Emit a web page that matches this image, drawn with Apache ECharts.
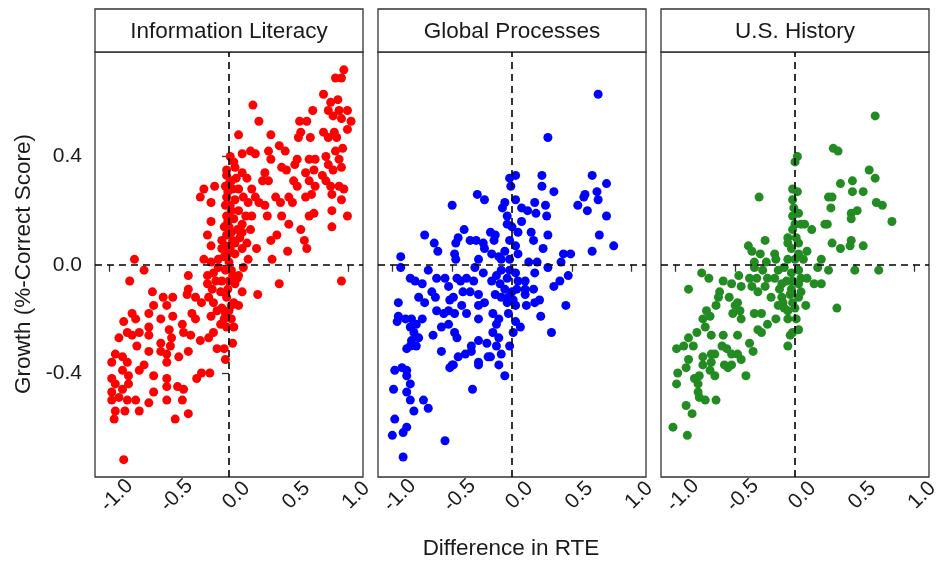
<!DOCTYPE html>
<html><head><meta charset="utf-8">
<script src="https://cdn.jsdelivr.net/npm/echarts@6/dist/echarts.min.js"></script>
<style>html,body{margin:0;padding:0;background:#fff}#c{width:937px;height:563px}</style>
</head><body><div id="c"></div><script>
const panelTitles = ['Information Literacy', 'Global Processes', 'U.S. History'];
const xTicks = [-1, -0.5, 0, 0.5, 1];
const yTicks = [-0.4, 0, 0.4];
const xTitle = 'Difference in RTE';
const yTitle = 'Growth (%-Correct Score)';
const pointColors = ['#FF0000', '#0000FF', '#228B22'];

const infoLiteracy = [
[0.96,0.72],[0.89,0.69],[0.94,0.69],[0.79,0.63],[0.91,0.61],[0.20,0.59],[0.70,0.57],[0.85,0.60],[0.83,0.57],[0.92,0.57],[0.99,0.57],[0.59,0.53],[0.65,0.53],[0.25,0.53],[0.87,0.55],[0.94,0.54],[1.02,0.53],[0.99,0.50],[0.79,0.49],[0.83,0.47],[0.90,0.47],[0.88,0.49],[0.08,0.48],[0.35,0.48],[0.60,0.49],[0.68,0.47],[0.58,0.47],[0.42,0.44],[0.47,0.42],[0.95,0.43],[0.33,0.42],[0.18,0.42],[0.11,0.41],[0.22,0.41],[0.01,0.40],[0.57,0.39],[0.67,0.39],[0.72,0.39],[0.81,0.40],[0.89,0.42],[0.83,0.37],[0.92,0.39],[0.35,0.39],[0.44,0.36],[0.48,0.35],[0.55,0.37],[0.64,0.34],[0.71,0.35],[0.78,0.33],[0.87,0.35],[0.94,0.36],[-0.02,0.35],[0.05,0.36],[0.11,0.34],[0.15,0.32],[0.30,0.34],[0.28,0.31],[0.33,0.31],[0.54,0.31],[0.57,0.29],[0.67,0.31],[0.72,0.29],[0.81,0.31],[0.85,0.29],[0.92,0.29],[0.96,0.28],[0.94,0.24],[0.86,0.26],[-0.12,0.29],[-0.21,0.28],[-0.24,0.25],[-0.15,0.23],[-0.15,0.16],[-0.18,0.11],[-0.15,0.07],[0.19,0.28],[0.22,0.25],[0.16,0.23],[0.25,0.23],[0.30,0.22],[0.39,0.25],[0.43,0.23],[0.50,0.25],[0.53,0.23],[0.64,0.25],[0.69,0.26],[0.67,0.18],[0.71,0.19],[0.86,0.20],[0.99,0.18],[0.86,0.14],[0.32,0.18],[0.44,0.18],[0.50,0.15],[0.60,0.13],[0.40,0.11],[0.35,0.09],[0.49,0.05],[0.63,0.09],[0.65,0.06],[0.23,0.06],[0.36,0.02],[0.16,0.02],[-0.79,0.02],[-0.21,0.02],[-0.15,0.01],
[-0.02,0.33],[0.00,0.30],[0.03,0.28],[-0.02,0.25],[0.05,0.24],[0.01,0.22],[0.08,0.20],[-0.02,0.18],[0.04,0.17],[0.11,0.15],[0.00,0.14],[0.07,0.13],[-0.02,0.11],[0.03,0.09],[0.09,0.10],[-0.03,0.07],[0.01,0.06],[0.05,0.04],[-0.04,0.03],[0.00,0.01],[0.11,0.06],[0.14,0.18],[0.11,0.12],[-0.06,0.09],[-0.04,0.14],[-0.03,0.22],[0.08,0.28],[0.12,0.25],[0.19,0.18],[0.18,0.13],[0.15,0.08],[0.05,0.08],[-0.06,0.06],[-0.09,0.02],
[0.02,0.31],[-0.01,0.27],[0.02,0.20],[-0.01,0.16],[0.02,0.12],[-0.01,0.04],[0.03,-0.04],[-0.01,-0.09],[0.02,-0.15],[-0.03,-0.18],[0.06,0.32],[0.04,0.38],[-0.03,0.29],
[-0.71,-0.02],[-0.83,-0.06],[0.94,-0.06],[0.42,-0.07],[0.24,-0.11],[-0.34,-0.04],[-0.34,-0.09],[-0.35,-0.11],[-0.28,-0.12],[-0.18,-0.04],[-0.18,-0.07],[-0.17,-0.12],[-0.23,-0.14],[-0.15,-0.19],[-0.13,-0.14],[-0.64,-0.10],[-0.63,-0.15],[-0.55,-0.12],[-0.47,-0.12],[-0.52,-0.15],[-0.47,-0.19],[-0.67,-0.18],[-0.57,-0.20],[-0.39,-0.22],[-0.31,-0.18],[-0.28,-0.20],[-0.38,-0.25],[-0.32,-0.26],[-0.81,-0.18],[-0.78,-0.20],[-0.88,-0.21],[-0.67,-0.23],[-0.67,-0.26],[-0.75,-0.25],[-0.85,-0.25],[-0.81,-0.26],[-0.92,-0.27],[-0.77,-0.30],[-0.67,-0.32],[-0.57,-0.29],[-0.57,-0.32],[-0.50,-0.24],[-0.48,-0.27],[-0.49,-0.30],[-0.52,-0.33],[-0.52,-0.36],[-0.42,-0.34],[-0.34,-0.32],[-0.24,-0.28],[-0.17,-0.27],[-0.13,-0.25],[-0.10,-0.31],[-0.04,-0.31],[-0.03,-0.35],[0.03,-0.29],[0.04,-0.23],[-0.95,-0.33],[-0.98,-0.36],[-0.89,-0.34],[-0.85,-0.36],[-0.71,-0.37],[-0.75,-0.39],[-0.84,-0.41],[-0.89,-0.39],[-0.98,-0.42],[-0.95,-0.44],[-0.89,-0.46],[-0.84,-0.44],[-0.98,-0.47],[-0.92,-0.49],[-0.85,-0.50],[-0.78,-0.50],[-0.98,-0.50],[-0.95,-0.54],[-0.96,-0.57],[-0.87,-0.54],[-0.75,-0.54],[-0.67,-0.51],[-0.63,-0.47],[-0.63,-0.41],[-0.52,-0.42],[-0.52,-0.45],[-0.43,-0.45],[-0.38,-0.46],[-0.52,-0.50],[-0.39,-0.50],[-0.34,-0.55],[-0.45,-0.57],[-0.27,-0.42],[-0.23,-0.40],[-0.16,-0.40],[-0.88,-0.72],
[-0.09,-0.01],[-0.03,-0.02],[0.02,-0.02],[0.08,-0.04],[0.12,-0.01],[-0.06,-0.06],[0.00,-0.06],[0.05,-0.07],[0.11,-0.10],[-0.07,-0.10],[-0.02,-0.12],[0.04,-0.14],[-0.06,-0.16],[0.00,-0.17],[0.08,-0.15],[-0.04,-0.20],[0.02,-0.20],[-0.02,-0.23],[-0.07,-0.22],[-0.11,-0.06],[-0.13,-0.03],[0.07,-0.05],[-0.10,-0.17],[-0.14,-0.09]
];

const globalProcesses = [
[0.72,0.63],[0.30,0.47],[0.03,0.33],[-0.02,0.32],[0.25,0.33],[0.67,0.33],[0.79,0.30],[-0.01,0.29],[0.25,0.29],[0.35,0.27],[0.61,0.26],[0.60,0.25],[0.71,0.27],[0.72,0.24],[0.79,0.18],[0.55,0.22],[0.63,0.20],[-0.29,0.26],[-0.23,0.24],[-0.50,0.22],[-0.73,0.11],[-0.65,0.08],[-0.62,0.05],[-0.93,0.03],[-0.45,0.10],[-0.47,0.08],[-0.40,0.13],
[-0.48,0.04],[-0.47,0.02],[-0.35,0.09],[-0.30,0.09],[-0.24,0.08],[-0.23,0.06],[-0.28,0.02],[-0.17,0.04],[-0.18,0.12],[-0.14,0.11],[-0.15,0.09],[-0.08,0.21],[-0.06,0.23],[0.03,0.24],[-0.04,0.18],[-0.04,0.15],[0.00,0.14],[0.05,0.12],[-0.02,0.09],[0.03,0.07],[-0.06,0.05],[-0.09,0.02],[-0.02,0.02],[0.05,0.04],[-0.11,0.03],[0.08,0.21],[0.08,0.16],[0.13,0.20],[0.19,0.23],[0.20,0.19],[0.28,0.22],[0.29,0.18],[0.16,0.12],[0.18,0.09],[0.30,0.11],[0.26,0.06],[0.43,0.04],[0.49,0.04],[0.41,0.01],[0.67,0.05],[0.73,0.11],[0.85,0.07],[0.14,0.01],[0.21,0.01],
[-0.93,-0.01],[-0.70,-0.02],[-0.63,-0.05],[-0.56,-0.05],[-0.46,-0.05],[-0.53,-0.08],[-0.43,-0.06],[-0.38,-0.05],[-0.32,-0.06],[-0.31,-0.01],[-0.24,-0.03],[-0.17,-0.06],[-0.13,-0.04],[-0.09,-0.02],[-0.04,-0.05],[-0.02,-0.02],[0.03,-0.03],[0.05,-0.06],[0.11,-0.06],[0.19,-0.03],[0.30,-0.01],[0.40,-0.06],[0.47,-0.04],[0.35,-0.08],[0.45,-0.15],[0.33,-0.25],[0.24,-0.19],[0.19,-0.14],[0.23,-0.13],[0.12,-0.15],[0.11,-0.11],[0.18,-0.09],[0.11,-0.09],
[-0.85,-0.05],[-0.81,-0.06],[-0.75,-0.07],[-0.67,-0.10],[-0.64,-0.12],[-0.78,-0.12],[-0.73,-0.14],[-0.63,-0.17],[-0.52,-0.13],[-0.49,-0.12],[-0.41,-0.10],[-0.35,-0.10],[-0.28,-0.11],[-0.23,-0.14],[-0.28,-0.15],[-0.42,-0.15],[-0.53,-0.17],[-0.48,-0.18],[-0.57,-0.18],[-0.38,-0.18],[-0.28,-0.20],[-0.16,-0.18],[-0.11,-0.20],[-0.13,-0.22],[-0.04,-0.14],[0.03,-0.15],[-0.03,-0.18],[0.03,-0.21],[0.07,-0.23],[0.01,-0.25],[-0.02,-0.30],[-0.16,-0.25],[-0.11,-0.27],[-0.21,-0.29],[-0.13,-0.30],[-0.09,-0.33],[-0.18,-0.34],[-0.28,-0.36],[-0.28,-0.28],[-0.34,-0.30],[-0.34,-0.32],[-0.39,-0.33],[-0.45,-0.34],[-0.49,-0.37],[-0.52,-0.38],[-0.46,-0.27],[-0.48,-0.25],[-0.53,-0.22],[-0.59,-0.23],[-0.66,-0.26],[-0.59,-0.32],
[-0.95,-0.14],[-0.95,-0.19],[-0.96,-0.21],[-0.89,-0.20],[-0.84,-0.20],[-0.85,-0.23],[-0.80,-0.22],[-0.75,-0.20],[-0.82,-0.25],[-0.84,-0.28],[-0.78,-0.27],[-0.88,-0.31],[-0.85,-0.30],[-0.80,-0.30],[-0.98,-0.39],[-0.92,-0.38],[-0.88,-0.39],[-0.88,-0.41],[-0.85,-0.44],[-0.99,-0.46],[-0.88,-0.47],[-0.85,-0.50],[-0.82,-0.54],[-0.74,-0.50],[-0.70,-0.53],[-0.98,-0.57],[-0.88,-0.60],[-0.91,-0.62],[-1.00,-0.63],[-0.91,-0.71],[-0.56,-0.65],[-0.33,-0.46],[-0.28,-0.37],[-0.20,-0.34],[-0.11,-0.37],[-0.06,-0.41],[-0.50,-0.37],
[-0.10,-0.07],[-0.06,-0.09],[0.00,-0.10],[-0.03,-0.12],[-0.09,-0.12],[0.01,-0.13],[-0.14,-0.11],[0.04,-0.09]
];

const usHistory = [
[0.67,0.55],[0.32,0.43],[0.36,0.42],[0.02,0.40],[0.00,0.38],[0.62,0.35],[0.67,0.32],[0.38,0.30],[0.48,0.31],[0.48,0.27],[0.57,0.27],[-0.02,0.28],[0.02,0.27],[-0.30,0.25],[0.28,0.25],[0.31,0.25],[0.30,0.21],[0.68,0.23],[0.73,0.22],[0.81,0.16],[0.47,0.19],[0.52,0.20],[0.47,0.17],[0.25,0.15],[0.27,0.15],
[-0.02,0.24],[-0.01,0.21],[-0.02,0.18],[0.03,0.19],[0.00,0.15],[0.05,0.15],[-0.02,0.13],[0.08,0.15],[0.14,0.13],[-0.06,0.10],[0.01,0.10],[0.03,0.08],[-0.06,0.08],[-0.03,0.06],[0.03,0.04],[0.10,0.05],[0.07,0.02],[0.00,0.02],[-0.06,0.02],
[-0.25,0.09],[-0.39,0.07],[-0.36,0.05],[-0.29,0.04],[-0.17,0.04],[-0.24,0.01],[-0.16,0.02],[-0.34,0.01],[0.22,0.02],[0.31,0.08],[0.38,0.06],[0.46,0.07],[0.57,0.07],[0.47,0.09],
[0.50,-0.02],[0.70,-0.02],[0.35,-0.16],[0.19,-0.01],[0.28,-0.02],[0.10,-0.05],[0.16,-0.07],[0.22,-0.07],[0.09,-0.15],
[-0.78,-0.03],[-0.72,-0.05],[-0.89,-0.09],[-0.60,-0.06],[-0.47,-0.04],[-0.53,-0.07],[-0.45,-0.08],[-0.38,-0.05],[-0.32,-0.05],[-0.36,-0.08],[-0.31,-0.10],[-0.27,-0.02],[-0.34,-0.01],[-0.23,-0.05],[-0.25,-0.08],[-0.17,-0.05],[-0.11,-0.07],[-0.20,-0.12],[-0.11,-0.12],[-0.04,-0.11],[0.03,-0.12],[0.00,-0.16],[-0.09,-0.16],[-0.16,-0.20],[-0.06,-0.20],[0.01,-0.20],[0.03,-0.24],[-0.04,-0.26],[-0.02,-0.25],[-0.06,-0.30],[-0.28,-0.18],[-0.34,-0.18],[-0.23,-0.22],[-0.31,-0.24],[-0.28,-0.25],[-0.38,-0.29],[-0.35,-0.32],[-0.45,-0.20],[-0.46,-0.17],[-0.50,-0.15],[-0.52,-0.18],[-0.55,-0.12],[-0.48,-0.14],[-0.63,-0.10],[-0.64,-0.12],[-0.66,-0.15],[-0.74,-0.17],[-0.77,-0.20],[-0.71,-0.19],[-0.75,-0.23],[-0.70,-0.26],[-0.82,-0.25],[-0.89,-0.27],[-0.93,-0.30],[-0.99,-0.31],[-0.85,-0.30],[-0.60,-0.26],[-0.61,-0.30],[-0.57,-0.31],[-0.67,-0.33],[-0.70,-0.33],[-0.53,-0.33],[-0.48,-0.33],[-0.45,-0.35],[-0.48,-0.26],[-0.53,-0.37],[-0.56,-0.38],[-0.59,-0.37],[-0.70,-0.36],[-0.77,-0.34],[-0.77,-0.37],[-0.71,-0.39],[-0.67,-0.41],[-0.80,-0.41],[-0.84,-0.42],[-0.81,-0.44],[-0.89,-0.35],[-0.91,-0.38],[-0.98,-0.40],[-0.99,-0.44],[-0.81,-0.47],[-0.80,-0.49],[-0.75,-0.50],[-0.66,-0.50],[-0.41,-0.41],[-0.91,-0.52],[-0.86,-0.55],[-1.02,-0.60],[-0.90,-0.63],
[-0.14,-0.02],[-0.09,-0.01],[-0.03,-0.03],[0.03,-0.02],[0.05,-0.05],[-0.02,-0.06],[-0.07,-0.06],[-0.13,-0.09],[-0.03,-0.09],[0.03,-0.07],[-0.10,-0.14],[-0.02,-0.14],[0.05,-0.10],[-0.14,-0.15],[-0.06,-0.17]
];

const panelData = [infoLiteracy, globalProcesses, usHistory];
const FONT = '"Liberation Sans", Arial, sans-serif';
const lefts = [95, 378, 661];
const W = 268, TOP = 52, H = 425, STRIP_TOP = 9;
const INK = '#1a1a1a', FRAME = '#333333';
const TICK_FS = 21, TITLE_FS = 22.5;

const grid = lefts.map(l => ({left: l, top: TOP, width: W, height: H, show: true, borderColor: FRAME, borderWidth: 1.3, backgroundColor: '#fff', outerBoundsMode: 'none', containLabel: false}));
const xAxis = lefts.map((l, i) => ({
  gridIndex: i, type: 'value', min: -1.12, max: 1.12,
  axisLine: {show: false}, splitLine: {show: false},
  axisTick: {show: true, length: 7, lineStyle: {color: FRAME, width: 1.3}, customValues: xTicks},
  axisLabel: {customValues: xTicks, formatter: v => v.toFixed(1), rotate: 45, align: 'center', verticalAlign: 'top', margin: 11, fontSize: TICK_FS, color: INK, fontFamily: FONT}
}));
const yAxis = lefts.map((l, i) => ({
  gridIndex: i, type: 'value', min: -0.784, max: 0.786,
  axisLine: {show: false}, splitLine: {show: false},
  axisTick: {show: i === 0, length: 7, lineStyle: {color: FRAME, width: 1.3}, customValues: yTicks},
  axisLabel: {show: i === 0, customValues: yTicks, formatter: v => v.toFixed(1), margin: 13, fontSize: TICK_FS, color: INK, fontFamily: FONT}
}));
const series = panelData.map((d, i) => ({
  type: 'scatter', xAxisIndex: i, yAxisIndex: i, data: d, symbolSize: 9,
  itemStyle: {color: pointColors[i], opacity: 1},
  markLine: {silent: true, symbol: ['none', 'none'], label: {show: false},
    lineStyle: {type: [7, 5], color: '#000', width: 1.6},
    emphasis: {disabled: true},
    data: [{xAxis: 0}, {yAxis: 0}]}
}));
const graphic = [];
lefts.forEach((l, i) => {
  graphic.push({type: 'rect', shape: {x: l, y: STRIP_TOP, width: W, height: TOP - STRIP_TOP}, style: {fill: '#fff', stroke: FRAME, lineWidth: 1.3}});
  graphic.push({type: 'text', x: l + W / 2, y: (STRIP_TOP + TOP) / 2 + 1, style: {text: panelTitles[i], fontSize: TITLE_FS, fontFamily: FONT, fill: INK, align: 'center', verticalAlign: 'middle'}});
});
graphic.push({type: 'text', x: 24, y: 264, rotation: Math.PI / 2, style: {text: yTitle, fontSize: TITLE_FS, fontFamily: FONT, fill: INK, align: 'center', verticalAlign: 'middle'}});
graphic.push({type: 'text', x: 511, y: 549, style: {text: xTitle, fontSize: TITLE_FS, fontFamily: FONT, fill: INK, align: 'center', verticalAlign: 'middle'}});

const chart = echarts.init(document.getElementById('c'), null, {renderer: 'canvas'});
chart.setOption({animation: false, backgroundColor: '#fff', grid, xAxis, yAxis, series, graphic});
</script></body></html>
